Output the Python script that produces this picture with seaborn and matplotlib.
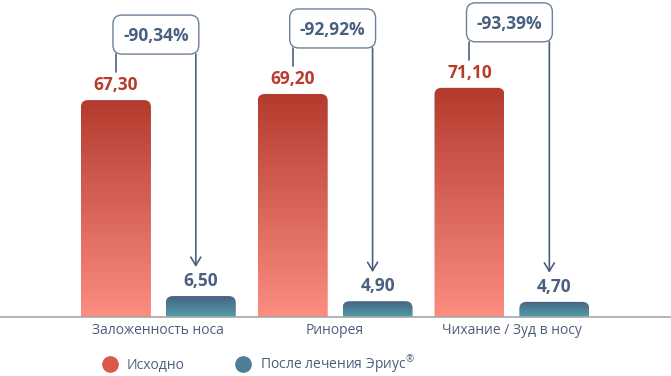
import numpy as np
import pandas as pd
import matplotlib
matplotlib.use("Agg")
import matplotlib.pyplot as plt
import seaborn as sns
from matplotlib.patches import FancyBboxPatch
from matplotlib.lines import Line2D
from matplotlib.colors import LinearSegmentedColormap

# ---- data ----
categories = ["Заложенность носа", "Ринорея", "Чихание / Зуд в носу"]
series = ["Исходно", "После лечения Эриус®"]
legend_labels = ["Исходно", "После лечения Эриус$^{®}$"]
baseline_vals = [67.30, 69.20, 71.10]
after_vals = [6.50, 4.90, 4.70]
baseline_labels = ["67,30", "69,20", "71,10"]
after_labels = ["6,50", "4,90", "4,70"]
changes = ["-90,34%", "-92,92%", "-93,39%"]

df = pd.DataFrame({
    "category": categories * 2,
    "series": [series[0]] * 3 + [series[1]] * 3,
    "value": baseline_vals + after_vals,
})

# ---- style ----
sns.set_theme(style="white")
plt.rcParams['font.family'] = ['Open Sans', 'DejaVu Sans']
plt.rcParams['mathtext.fontset'] = 'custom'
plt.rcParams['mathtext.rm'] = 'Open Sans'
plt.rcParams['mathtext.it'] = 'Open Sans'
plt.rcParams['mathtext.bf'] = 'Open Sans:bold'

RED_TOP, RED_BOT = "#b33b2e", "#fc8d80"
TEAL_TOP, TEAL_BOT = "#4a6182", "#4f9fa8"
RED_TXT = "#b83b2e"
BLUE_TXT = "#4a6080"
BOX_EDGE = "#6c8099"
TICK_TXT = "#4d5d7a"

W, H = 671, 376
fig = plt.figure(figsize=(W / 100, H / 100), dpi=100)
ax = fig.add_axes([0, 59 / H, 1, 317 / H])

sns.barplot(data=df, x="category", y="value", hue="series",
            palette=[RED_TOP, TEAL_TOP], width=0.96, gap=0.175,
            errorbar=None, legend=False, ax=ax)

XLIM = (-0.896, 2.9)
YLIM = (0, 98.35)
ax.set_xlim(*XLIM)
ax.set_ylim(*YLIM)
xpx = (XLIM[1] - XLIM[0]) / W
ypx = (YLIM[1] - YLIM[0]) / 317

cmaps = [LinearSegmentedColormap.from_list("r", [RED_BOT, RED_TOP]),
         LinearSegmentedColormap.from_list("t", [TEAL_BOT, TEAL_TOP])]
grad = np.linspace(0, 1, 256).reshape(-1, 1)
rx, ry = 7 * xpx, 7 * ypx

for k, cont in enumerate(ax.containers):
    for bar in cont:
        x0, w, h = bar.get_x(), bar.get_width(), bar.get_height()
        bar.set_visible(False)
        clip = FancyBboxPatch((x0, -ry * 2), w, h + ry * 2,
                              boxstyle=f"round,pad=0,rounding_size={rx}",
                              mutation_aspect=ry / rx,
                              facecolor="none", edgecolor="none")
        ax.add_patch(clip)
        im = ax.imshow(grad, extent=[x0, x0 + w, 0, h], origin="lower",
                       aspect="auto", cmap=cmaps[k], zorder=2)
        im.set_clip_path(clip)

# ---- annotations ----
for i in range(len(categories)):
    rb = ax.containers[0][i]
    bb = ax.containers[1][i]
    rc = rb.get_x() + rb.get_width() / 2
    bc = bb.get_x() + bb.get_width() / 2
    rv = rb.get_height()
    bv = bb.get_height()

    ax.text(rc, rv + 10 * ypx, baseline_labels[i], ha="center", va="baseline",
            fontsize=12.5, fontweight="bold", color=RED_TXT)
    ax.text(bc, bv + 10 * ypx, after_labels[i], ha="center", va="baseline",
            fontsize=12.5, fontweight="bold", color=BLUE_TXT)

    bx0 = rc - 3 * xpx
    bx1 = bc - 2 * xpx
    by0 = rv + 46 * ypx
    bh = 39 * ypx
    box = FancyBboxPatch((bx0, by0), bx1 - bx0, bh,
                         boxstyle=f"round,pad=0,rounding_size={9 * xpx}",
                         mutation_aspect=ypx / xpx,
                         facecolor="white", edgecolor=BOX_EDGE, lw=1.0,
                         clip_on=False, zorder=4)
    ax.add_patch(box)
    ax.text((bx0 + bx1) / 2, by0 + 13 * ypx, changes[i], ha="center",
            va="baseline", fontsize=12.5, fontweight="bold", color=BLUE_TXT,
            zorder=5, clip_on=False)

    ax.plot([rc, rc], [rv + 28 * ypx, by0], color=BLUE_TXT, lw=1.2,
            zorder=3, clip_on=False)
    ax_x = bx1 - 3 * xpx
    ax.annotate("", xy=(ax_x, bv + 29 * ypx), xytext=(ax_x, by0),
                arrowprops=dict(arrowstyle="->,head_length=0.5,head_width=0.3",
                                color=BLUE_TXT, lw=1.2, shrinkA=0, shrinkB=0,
                                mutation_scale=12),
                zorder=3, annotation_clip=False)

# ---- axes styling ----
for s in ["top", "right", "left"]:
    ax.spines[s].set_visible(False)
ax.spines["bottom"].set_color("#a8a8a8")
ax.spines["bottom"].set_linewidth(1.2)
ax.set_yticks([])
ax.set_xlabel("")
ax.set_ylabel("")
ax.tick_params(axis="x", length=0, pad=4.5, labelsize=10, labelcolor=TICK_TXT)
ax.set_xlim(*XLIM)
ax.set_ylim(*YLIM)

# ---- legend ----
handles = [Line2D([], [], marker="o", ls="", markersize=11, color="#d95a4b"),
           Line2D([], [], marker="o", ls="", markersize=11, color="#4d7f96")]
fig.legend(handles, legend_labels, loc="center left", ncol=2, frameon=False,
           bbox_to_anchor=(103 / W, 1 - 364 / H), fontsize=10,
           labelcolor=TICK_TXT, handlelength=1.0, handletextpad=0.72,
           columnspacing=3.7, borderpad=0, borderaxespad=0)

fig.savefig("out.png", dpi=100)
